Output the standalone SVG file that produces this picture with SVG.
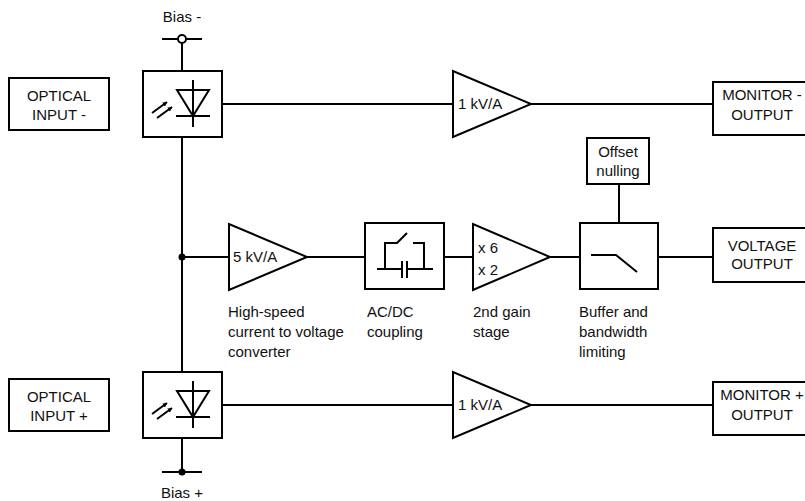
<svg xmlns="http://www.w3.org/2000/svg" width="805" height="501" viewBox="0 0 805 501">
<defs>
<style>
.b{fill:#fff;stroke:#000;stroke-width:2}
.l{fill:none;stroke:#000;stroke-width:2}
.t{font-family:"Liberation Sans",Arial,sans-serif;font-size:15px;fill:#111}
.m{text-anchor:middle}
</style>
<marker id="ah" viewBox="0 0 10 10" refX="9" refY="5" markerWidth="5" markerHeight="5" orient="auto" markerUnits="userSpaceOnUse">
<path d="M0,0 L10,5 L0,10 z" fill="#000"/>
</marker>
<g id="pd">
<rect class="b" x="0" y="0" width="79" height="66"/>
<path class="l" d="M34,19 L66,19 L50,45 Z M33,45 L67,45 M50,9 L50,56"/>
<line class="l" stroke-width="1.6" x1="9" y1="42" x2="24" y2="31" marker-end="url(#ah)"/>
<line class="l" stroke-width="1.6" x1="14" y1="47" x2="29" y2="36" marker-end="url(#ah)"/>
</g>
</defs>
<rect width="805" height="501" fill="#fff"/>
<g id="connectors">
<path class="l" d="M182,43 L182,71 M162,39 L178,39 M186,39 L202,39"/>
<path class="l" d="M182,137 L182,372"/>
<path class="l" d="M182,438 L182,472 M162,472 L202,472"/>
<path class="l" d="M222,104 L453,104 M531,104 L713,104"/>
<path class="l" d="M222,405 L453,405 M531,405 L713,405"/>
<path class="l" d="M182,257 L229,257 M307,257 L365,257 M444,257 L473,257 M550,257 L580,257 M658,257 L713,257"/>
<path class="l" d="M619,184 L619,223"/>
<circle cx="182" cy="39" r="4" fill="#fff" stroke="#000" stroke-width="2"/>
<circle cx="182" cy="257" r="3.5" fill="#000"/>
<circle cx="182" cy="472" r="3.5" fill="#000"/>
</g>
<text class="t m" x="182" y="22">Bias -</text>
<text class="t m" x="182" y="498">Bias +</text>
<g id="optical-input-minus">
<rect class="b" x="9" y="78" width="100" height="52"/>
<text class="t m" x="59" y="101">OPTICAL</text>
<text class="t m" x="59" y="120">INPUT -</text>
</g>
<g id="optical-input-plus">
<rect class="b" x="9" y="379" width="100" height="52"/>
<text class="t m" x="59" y="402">OPTICAL</text>
<text class="t m" x="59" y="421">INPUT +</text>
</g>
<g id="photodiode-minus"><use href="#pd" x="143" y="71"/></g>
<g id="photodiode-plus"><use href="#pd" x="143" y="372"/></g>
<g id="amp-monitor-minus">
<path class="b" d="M453,71 L453,137 L531,104 Z"/>
<text class="t" x="458" y="109">1 kV/A</text>
</g>
<g id="amp-monitor-plus">
<path class="b" d="M453,372 L453,438 L531,405 Z"/>
<text class="t" x="458" y="410">1 kV/A</text>
</g>
<g id="monitor-minus-output">
<rect class="b" x="713" y="82" width="100" height="53"/>
<text class="t m" x="762" y="100">MONITOR -</text>
<text class="t m" x="762" y="120">OUTPUT</text>
</g>
<g id="monitor-plus-output">
<rect class="b" x="713" y="382" width="100" height="53"/>
<text class="t m" x="762" y="400">MONITOR +</text>
<text class="t m" x="762" y="420">OUTPUT</text>
</g>
<g id="tia">
<path class="b" d="M229,224 L229,290 L307,257 Z"/>
<text class="t" x="233" y="262">5 kV/A</text>
<text class="t" x="228" y="317">High-speed</text>
<text class="t" x="228" y="337">current to voltage</text>
<text class="t" x="228" y="357">converter</text>
</g>
<g id="acdc">
<rect class="b" x="365" y="223" width="79" height="66"/>
<path class="l" d="M377,269 L402,269 M407,269 L433,269 M402,261 L402,278 M407,261 L407,278 M385,269 L385,243 L397,243 L407,233 M413,243 L424,243 L424,269"/>
<text class="t" x="367" y="317">AC/DC</text>
<text class="t" x="367" y="337">coupling</text>
</g>
<g id="gain2">
<path class="b" d="M473,224 L473,290 L550,257 Z"/>
<text class="t" x="478" y="253">x 6</text>
<text class="t" x="478" y="275">x 2</text>
<text class="t" x="473" y="317">2nd gain</text>
<text class="t" x="473" y="337">stage</text>
</g>
<g id="offset">
<rect class="b" x="587" y="138" width="62" height="46"/>
<text class="t m" x="618" y="157">Offset</text>
<text class="t m" x="618" y="176">nulling</text>
</g>
<g id="buffer">
<rect class="b" x="580" y="223" width="78" height="66"/>
<path class="l" d="M591,255 L616,255 L637,272"/>
<text class="t" x="579" y="317">Buffer and</text>
<text class="t" x="579" y="337">bandwidth</text>
<text class="t" x="579" y="357">limiting</text>
</g>
<g id="voltage-output">
<rect class="b" x="713" y="228" width="100" height="54"/>
<text class="t m" x="762" y="251">VOLTAGE</text>
<text class="t m" x="762" y="269">OUTPUT</text>
</g>
</svg>
